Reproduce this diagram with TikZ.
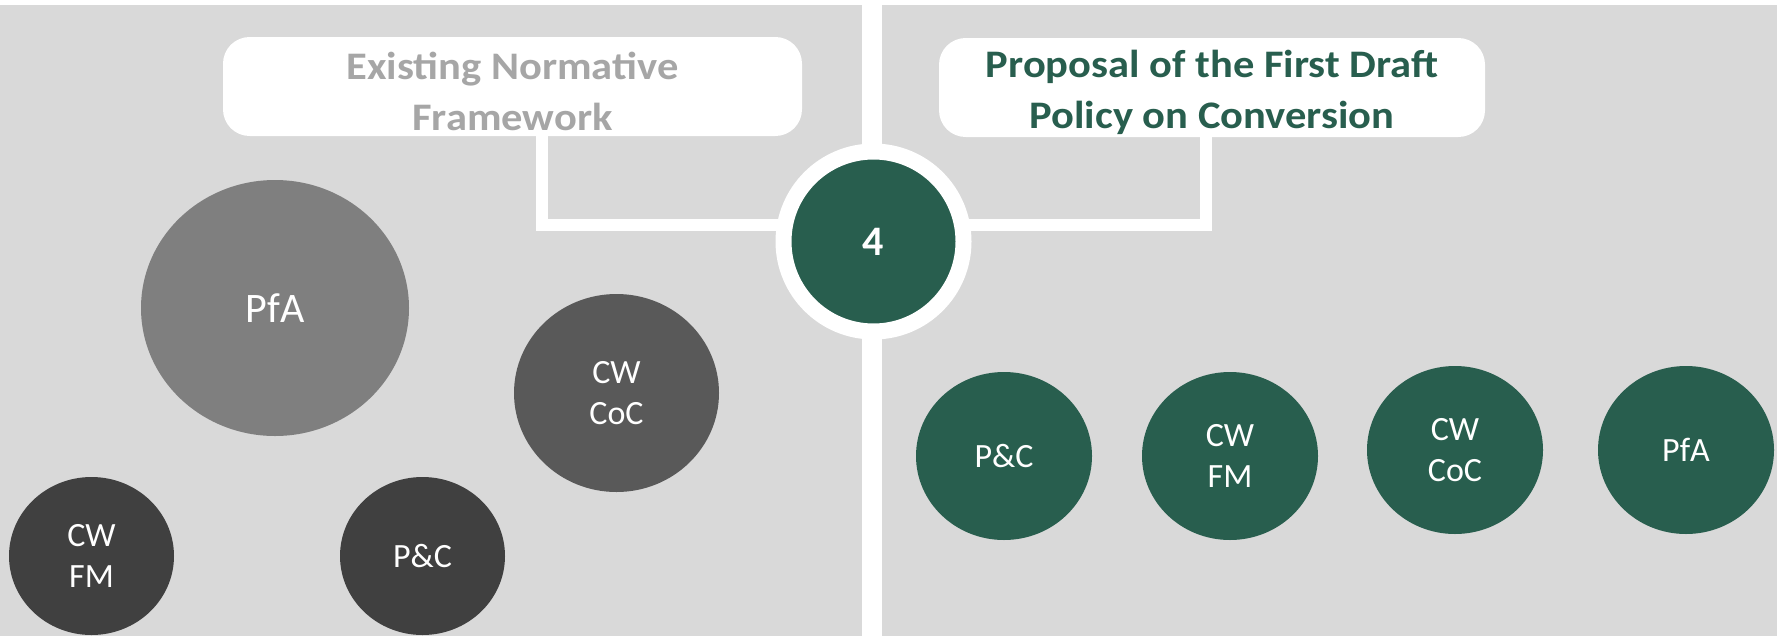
\documentclass[tikz,border=0pt]{standalone}
\usepackage{fontspec}
\setmainfont{Carlito}
\newfontfamily\titlefont[FakeStretch=1.09]{Carlito}
\usetikzlibrary{shapes.geometric}
\definecolor{bg}{HTML}{D9D9D9}
\definecolor{pgreen}{RGB}{40,94,78}
\definecolor{gA}{HTML}{7F7F7F}
\definecolor{gB}{HTML}{595959}
\definecolor{gC}{HTML}{404040}
\definecolor{ttl}{HTML}{A6A6A6}
\begin{document}
\begin{tikzpicture}[x=0.75pt,y=-0.75pt,
  titlebox/.style={fill=white,rounded corners=20pt,inner sep=0pt,minimum height=74.25pt},
  titletext/.style={inner sep=0pt,align=center,
    font=\titlefont\fontsize{29.25}{38.25}\selectfont\bfseries},
  blob/.style={ellipse,inner sep=0pt,align=center,text=white,
    font=\fontsize{25.5}{30.5}\selectfont},
  smallblob/.style={blob,minimum width=132pt,minimum height=126pt,fill=pgreen},
  link/.style={draw=white,line width=9pt},
]
\useasboundingbox (0,0) rectangle (1777,636);
\fill[white] (0,0) rectangle (1777,636);
\fill[bg] (0,5) rectangle (861.5,636);
\fill[bg] (881.5,5) rectangle (1777,636);

\node[titlebox,minimum width=434.25pt] (lbox) at (512.5,86.5) {};
\node[titlebox,minimum width=409.5pt] (rbox) at (1212,87.5) {};
\node[titletext,text=ttl] (ltitle) at (512.5,91.5) {Existing Normative\\Framework};
\node[titletext,text=pgreen] (rtitle) at (1212,92.5) {Proposal of the First Draft\\Policy on Conversion};

\coordinate (c4c) at (873.5,241.5);
\coordinate (lk) at (542,225);
\coordinate (rk) at (1206,225);
\draw[link] (lbox.south -| lk) -- (lk) -- (lk -| c4c);
\draw[link] (rbox.south -| rk) -- (rk) -- (rk -| c4c);

\node[circle,fill=pgreen,draw=white,line width=12pt,minimum size=135pt,inner sep=0pt,
  text=white,font=\fontsize{31.5}{38}\selectfont\bfseries] (c4) at (c4c) {4};

\node[blob,fill=gA,minimum width=201pt,minimum height=192pt,font=\fontsize{31.5}{38}\selectfont] (lpfa) at (275,308) {PfA};
\node[blob,fill=gB,minimum width=153.75pt,minimum height=148.5pt] (lcoc) at (616.5,393) {CW\\CoC};
\node[blob,fill=gC,minimum width=123.75pt,minimum height=118.5pt] (lfm) at (91.5,556) {CW\\FM};
\node[blob,fill=gC,minimum width=123.75pt,minimum height=118.5pt] (lpc) at (422.5,556) {P\&C};

\node[smallblob] (rpc) at (1004,456) {P\&C};
\node[smallblob] (rfm) at (1230,456) {CW\\FM};
\node[smallblob] (rcoc) at (1455,450) {CW\\CoC};
\node[smallblob] (rpfa) at (1686,450) {PfA};
\end{tikzpicture}
\end{document}
